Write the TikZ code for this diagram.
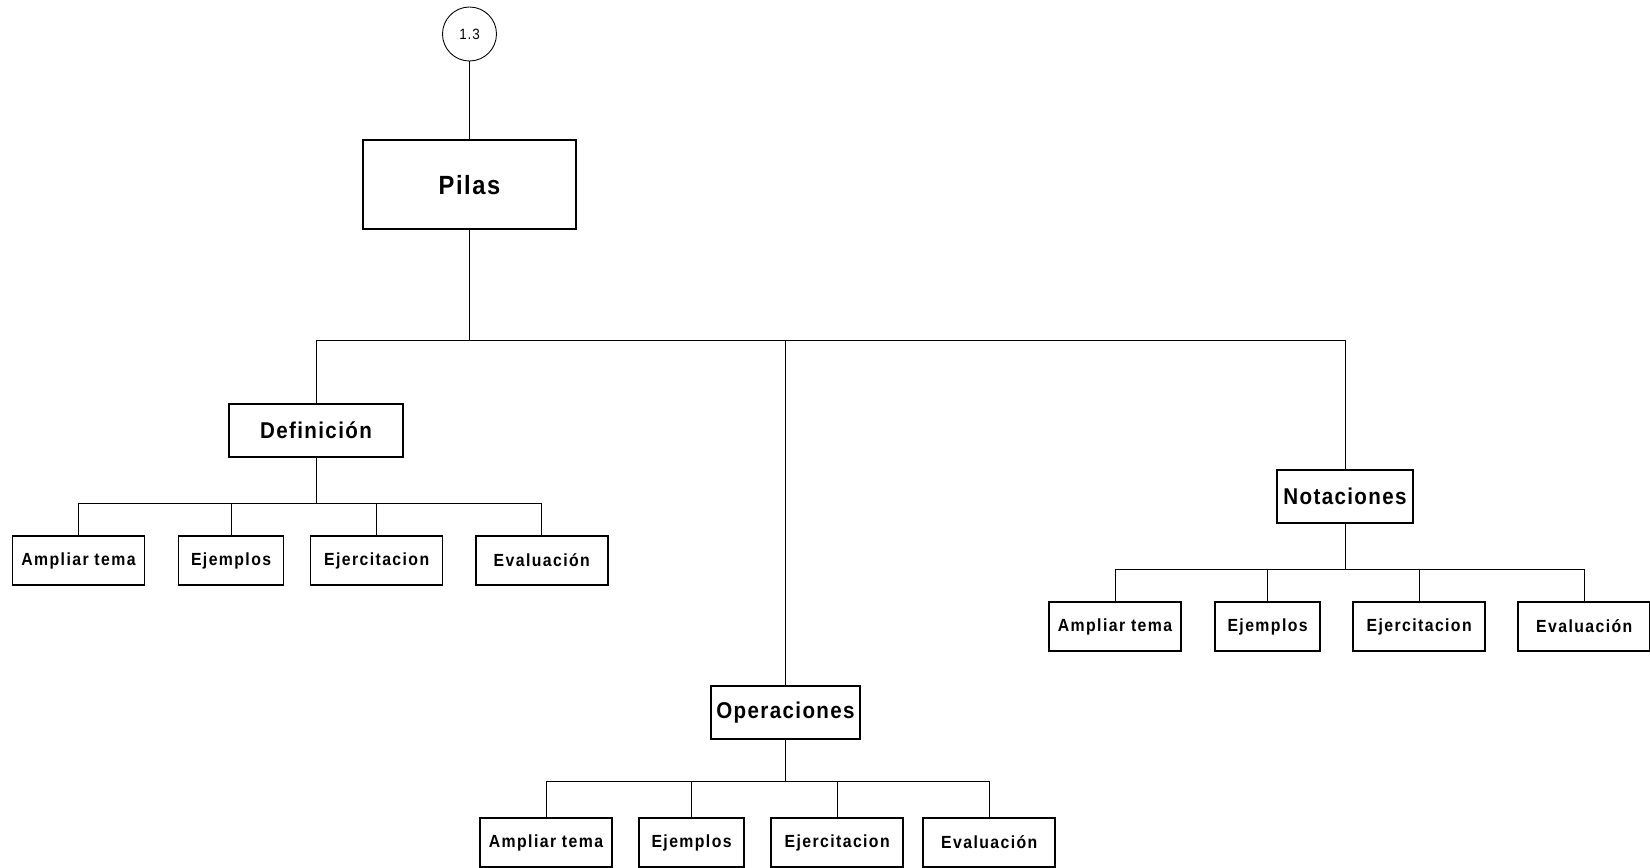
\documentclass[tikz,border=0pt]{standalone}
\usepackage{fontspec}
\setmainfont{Liberation Sans}[FakeStretch=0.9, LetterSpace=6]
\usetikzlibrary{positioning}
\tikzset{node distance=0.63cm, % Gap between two sibling boxes
ref/.style={ % Page reference circle on top
draw, circle, line width=0.5pt, minimum size=1.08cm, inner sep=0pt,
font=\fontsize{8.5}{10}\selectfont},
root/.style={ % Main subject box
draw, line width=0.9pt, minimum width=4.26cm, minimum height=1.78cm,
font=\bfseries\fontsize{15}{18}\selectfont},
topic/.style={ % Second level boxes
draw, line width=0.9pt, minimum height=1.06cm, inner sep=1pt,
font=\bfseries\fontsize{13}{15}\selectfont},
leaf/.style={ % Activity boxes under each topic
draw, line width=0.9pt, minimum width=2.64cm, minimum height=0.98cm,
font=\bfseries\addfontfeature{LetterSpace=8}\fontsize{10}{12}\selectfont},
short leaf/.style={leaf, minimum width=2.1cm},
elbow/.style={ % Down, across, down again
to path={(\tikztostart) -- ++(0,-#1) -| (\tikztotarget)}},
every edge/.style={draw, line width=0.55pt}}

\begin{document}
\begin{tikzpicture}
    \useasboundingbox (0,0) rectangle (33,-17.34);

    \node[ref] (13) at (9.39,-0.68) {1.3};
    \node[root, below=1.56cm of 13] (pilas) {Pilas};

    \node[topic, minimum width=3.48cm] (def) at (6.32,-8.61) {Definición};
    \node[topic, minimum width=2.98cm] (ops) at (15.71,-14.25) {Operaciones};
    \node[topic, minimum width=2.72cm] (nots) at (26.9,-9.93) {Notaciones};

    % Definición
    \node[leaf] (def1) at (1.57,-11.21) {Ampliar tema};
    \node[short leaf, right=0.65cm of def1] (def2) {Ejemplos};
    \node[leaf, right=0.51cm of def2] (def3) {Ejercitacion};
    \node[leaf, right=of def3] (def4) {Evaluación};

    % Operaciones
    \node[leaf] (ops1) at (10.92,-16.85) {Ampliar tema};
    \node[short leaf, right=0.51cm of ops1] (ops2) {Ejemplos};
    \node[leaf, right=0.51cm of ops2] (ops3) {Ejercitacion};
    \node[leaf, right=0.37cm of ops3] (ops4) {Evaluación};

    % Notaciones
    \node[leaf] (nots1) at (22.3,-12.53) {Ampliar tema};
    \node[short leaf, right=0.65cm of nots1] (nots2) {Ejemplos};
    \node[leaf, right=of nots2] (nots3) {Ejercitacion};
    \node[leaf, right=of nots3] (nots4) {Evaluación};

    \draw[line width=0.55pt] (13) -- (pilas);
    \foreach \t in {def,ops,nots}
        \draw (pilas.south) edge[elbow=2.2cm] (\t.north);
    \foreach \i in {1,...,4} {
        \draw (def.south) edge[elbow=0.92cm] (def\i.north);
        \draw (ops.south) edge[elbow=0.84cm] (ops\i.north);
        \draw (nots.south) edge[elbow=0.92cm] (nots\i.north);
    }

\end{tikzpicture}
\end{document}
